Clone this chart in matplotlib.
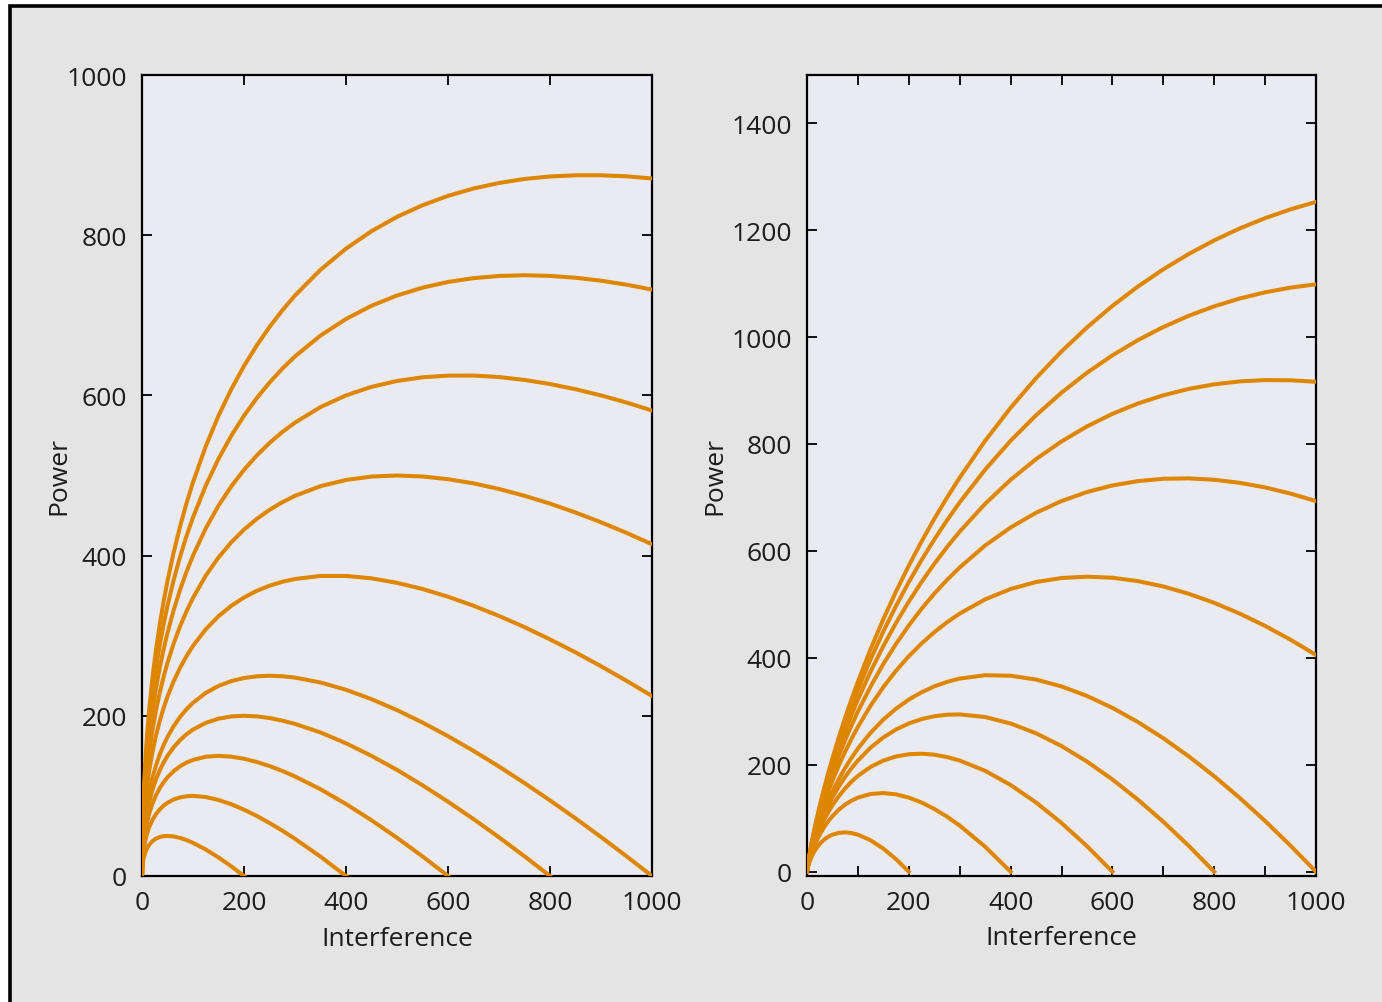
import matplotlib
matplotlib.use('Agg')
import matplotlib.pyplot as plt
from matplotlib.patches import Rectangle
from matplotlib.ticker import MultipleLocator

plt.rcParams['font.family'] = ['Open Sans', 'DejaVu Sans']

# ---------------- data ----------------
interference = [0, 1, 3, 6, 10, 14, 20, 27, 35, 42, 50, 62, 75, 87, 100, 125,
                150, 175, 200, 225, 250, 275, 300, 350, 400, 450, 500, 550,
                600, 650, 700, 750, 800, 850, 900, 950, 1000]

# left panel curves
left_200 = [0, 13.1, 21.5, 28.6, 34.7, 38.9, 43.2, 46.5, 48.7, 49.7, 50, 49.4,
            47.5, 44.9, 41.4, 33.1, 23.2, 12.1, 0]
left_400 = [0, 19, 31.6, 43.0, 53.2, 60.8, 69.4, 76.9, 83.3, 87.6, 91.4, 95.5,
            98.2, 99.5, 100, 98.6, 94.9, 89.6, 82.8, 75, 66.2, 56.7, 46.4, 24.2,
            0]
left_600 = [0, 23.5, 39.4, 54.0, 67.5, 77.7, 89.5, 100.3, 109.9, 116.7, 123.2,
            130.9, 137.1, 141.5, 144.9, 148.9, 150, 149.0, 146.4, 142.4, 137.3,
            131.2, 124.3, 108.3, 89.9, 69.6, 47.7, 24.5, 0]
left_800 = [0, 27.3, 46.0, 63.3, 79.4, 91.8, 106.5, 120.0, 132.3, 141.3, 150,
            160.7, 169.9, 176.8, 182.8, 191.2, 196.4, 199.2, 200, 199.3, 197.2,
            194.0, 189.9, 179.2, 165.7, 150, 132.5, 113.3, 92.8, 71.1, 48.3,
            24.6, 0]
left_1000 = [0, 30.6, 51.8, 71.5, 90, 104.3, 121.4, 137.3, 152.1, 162.9, 173.6,
             187.0, 198.9, 208.0, 216.2, 228.6, 237.3, 243.3, 247.2, 249.3, 250,
             249.4, 247.7, 241.6, 232.5, 220.8, 207.1, 191.6, 174.6, 156.2,
             136.7, 116.0, 94.4, 72.0, 48.7, 24.7, 0]
left_1500 = [0, 37.7, 64.1, 88.9, 112.5, 130.9, 153.2, 174.2, 194.1, 209.0,
             223.9, 243.0, 260.4, 274.2, 287.3, 308.0, 324.3, 337.3, 347.7,
             356.0, 362.4, 367.3, 370.8, 374.6, 374.6, 371.6, 366.0, 358.3,
             348.7, 337.4, 324.7, 310.7, 295.4, 279.2, 261.9, 243.7, 224.7]
left_2000 = [0, 43.7, 74.5, 103.5, 131.4, 153.3, 180, 205.4, 229.6, 247.8,
             266.2, 290.1, 312.3, 330.1, 347.2, 375, 397.7, 416.6, 432.5, 445.8,
             457.1, 466.6, 474.6, 486.7, 494.4, 498.7, 500, 498.8, 495.4, 490.2,
             483.2, 474.7, 464.9, 453.8, 441.6, 428.4, 414.2]
left_2500 = [0, 49, 83.6, 116.5, 148.1, 173.1, 203.6, 232.8, 260.8, 282.0,
             303.6, 331.7, 358.0, 379.4, 400, 434.0, 462.4, 486.4, 507.1, 525,
             540.6, 554.2, 566.0, 585.4, 600, 610.7, 618.0, 622.6, 624.7, 624.8,
             622.9, 619.3, 614.2, 607.7, 600, 591.1, 581.1]
left_3000 = [0, 53.8, 91.9, 128.2, 163.2, 190.9, 225.0, 257.6, 289.0, 313.0,
             337.3, 369.3, 399.3, 423.9, 447.7, 487.4, 520.8, 549.6, 574.6,
             596.6, 616.0, 633.3, 648.7, 674.7, 695.4, 711.9, 724.7, 734.5,
             741.6, 746.4, 749.1, 750, 749.2, 746.9, 743.2, 738.2, 732.1]
left_3500 = [0, 58.2, 99.5, 138.9, 177.1, 207.4, 244.6, 280.4, 315, 341.4,
             368.3, 403.8, 437.3, 464.8, 491.6, 536.4, 574.6, 607.6, 636.7,
             662.4, 685.4, 706.1, 724.7, 756.8, 783.2, 805.0, 822.9, 837.4,
             849.1, 858.3, 865.2, 870.2, 873.3, 874.8, 874.8, 873.5, 870.8]

# right panel curves
right_200 = [0, 5.3, 12.6, 21.0, 30.0, 37.2, 46.1, 54.1, 61.0, 65.5, 69.3, 72.6,
             73.6, 72.4, 69.3, 58.8, 43.2, 23.4, 0]
right_400 = [0, 6.0, 14.7, 25.2, 36.9, 46.9, 59.9, 72.8, 85.3, 94.7, 104.0,
             115.6, 125.6, 132.7, 138.6, 145.4, 147.1, 144.7, 138.6, 129.5,
             117.5, 103.0, 86.3, 46.8, 0]
right_600 = [0, 6.4, 15.9, 27.6, 40.9, 52.6, 68.0, 83.7, 99.5, 111.7, 124.2,
             140.7, 156.0, 168.0, 179.2, 196.1, 207.9, 215.6, 219.7, 220.7,
             218.9, 214.5, 207.9, 188.7, 162.2, 129.5, 91.2, 47.9, 0]
right_800 = [0, 6.7, 16.8, 29.4, 43.8, 56.6, 73.8, 91.5, 109.5, 123.8, 138.6,
             158.6, 177.5, 193.0, 207.9, 232.0, 251.1, 266.0, 277.3, 285.4,
             290.8, 293.6, 294.2, 289.3, 277.2, 258.9, 235.0, 206.1, 172.6,
             134.9, 93.5, 48.4, 0]
right_1000 = [0, 6.9, 17.4, 30.7, 46.1, 59.8, 78.2, 97.5, 117.3, 133.1, 149.8,
              172.4, 194.3, 212.4, 230.3, 259.9, 284.6, 305.0, 321.9, 335.6,
              346.6, 355.0, 361.2, 367.5, 366.5, 359.4, 346.6, 328.8, 306.5,
              280.0, 249.7, 215.8, 178.6, 138.2, 94.9, 48.7, 0]
right_1500 = [0, 7.3, 18.6, 33.1, 50.1, 65.4, 86.4, 108.5, 131.5, 150.2, 170.1,
              197.5, 224.7, 247.7, 270.8, 310.6, 345.4, 376.0, 403.0, 426.8,
              447.9, 466.5, 482.8, 509.4, 528.7, 541.8, 549.3, 551.8, 549.8,
              543.5, 533.5, 519.8, 502.9, 482.8, 459.7, 433.9, 405.4]
right_2000 = [0, 7.6, 19.5, 34.9, 53.0, 69.5, 92.1, 116.2, 141.6, 162.3, 184.4,
              215.4, 246.3, 272.7, 299.6, 346.6, 388.5, 426.3, 460.5, 491.6,
              519.9, 545.6, 569.1, 610.1, 643.8, 671.3, 693.2, 710.1, 722.4,
              730.5, 734.9, 735.6, 733.0, 727.3, 718.7, 707.2, 693.1]
right_2500 = [0, 7.8, 20.2, 36.2, 55.2, 72.6, 96.6, 122.3, 149.4, 171.6, 195.6,
              229.2, 263.0, 292.2, 321.9, 374.5, 422.0, 465.4, 505.1, 541.8,
              575.6, 607.0, 636.1, 688.1, 733.0, 771.7, 804.7, 832.8, 856.3,
              875.6, 891.0, 902.9, 911.5, 917.0, 919.4, 919.1, 916.2]
right_3000 = [0, 8.0, 20.7, 37.3, 57.0, 75.1, 100.2, 127.2, 155.8, 179.3, 204.7,
              240.5, 276.7, 308.0, 340.1, 397.3, 449.4, 497.3, 541.6, 582.8,
              621.2, 657.1, 690.8, 752.0, 806.0, 853.7, 895.9, 933.1, 965.7,
              994.1, 1018.7, 1039.7, 1057.4, 1072.0, 1083.6, 1092.4, 1098.6]
right_3500 = [0, 8.2, 21.2, 38.2, 58.6, 77.3, 103.3, 131.3, 161.2, 185.8, 212.4,
              250.1, 288.2, 321.4, 355.5, 416.5, 472.5, 524.2, 572.4, 617.5,
              659.8, 699.5, 737.0, 805.9, 867.6, 923.1, 973.0, 1017.8, 1058.2,
              1094.3, 1126.6, 1155.3, 1180.7, 1203.0, 1222.3, 1238.8, 1252.7]

left_curves = [left_200, left_400, left_600, left_800, left_1000,
               left_1500, left_2000, left_2500, left_3000, left_3500]
right_curves = [right_200, right_400, right_600, right_800, right_1000,
                right_1500, right_2000, right_2500, right_3000, right_3500]

x_ticks = [0, 200, 400, 600, 800, 1000]
left_y_ticks = [0, 200, 400, 600, 800, 1000]
right_y_ticks = [0, 200, 400, 600, 800, 1000, 1200, 1400]
x_label = 'Interference'
y_label = 'Power'

# ---------------- style ----------------
LINE_COLOR = '#DE8600'
AX_BG = '#EAEAF2'
FIG_BG = '#E4E4E4'
TXT = '#1c1c1c'
FS = 19

W, H = 1382, 1003
fig = plt.figure(figsize=(W / 100, H / 100), dpi=100)
fig.patch.set_facecolor('white')

frame = Rectangle((10 / W, -0.1), 1.2, 1 - 7 / H + 0.1, transform=fig.transFigure,
                  facecolor=FIG_BG, edgecolor='black', linewidth=2.6, zorder=-10)
fig.patches.append(frame)

bottom = (H - 877) / H
height = 801 / H
ax1 = fig.add_axes([142 / W, bottom, 510 / W, height])
ax2 = fig.add_axes([807 / W, bottom, 509 / W, height])


def style(ax, yticks, ylim, minor_x):
    ax.set_facecolor(AX_BG)
    ax.set_xlim(0, 1000)
    ax.set_ylim(*ylim)
    ax.set_xticks(x_ticks)
    ax.set_yticks(yticks)
    if minor_x:
        ax.xaxis.set_minor_locator(MultipleLocator(100))
        ax.tick_params(axis='x', which='minor', direction='in', length=7,
                       width=1.3, top=True, bottom=True, color='black')
    ax.tick_params(axis='both', which='major', direction='in', length=7,
                   width=1.3, top=True, right=True, color='black',
                   labelsize=FS, labelcolor=TXT)
    ax.tick_params(axis='x', which='major', pad=10)
    ax.tick_params(axis='y', which='major', pad=11)
    for s in ax.spines.values():
        s.set_linewidth(1.6)
        s.set_color('black')
    ax.set_xlabel(x_label, fontsize=FS, color=TXT)
    ax.set_ylabel(y_label, fontsize=FS, color=TXT, va='center')


style(ax1, left_y_ticks, (0, 1000), False)
style(ax2, right_y_ticks, (-8, 1490), True)

ax1.xaxis.set_label_coords(0.5, -0.063)
ax2.xaxis.set_label_coords(0.5, -0.061)
ax1.yaxis.set_label_coords(-0.163, 0.5)
ax2.yaxis.set_label_coords(-0.181, 0.5)

for p in left_curves:
    ax1.plot(interference[:len(p)], p, color=LINE_COLOR, lw=2.9, zorder=3)
for p in right_curves:
    ax2.plot(interference[:len(p)], p, color=LINE_COLOR, lw=2.9, zorder=3)

fig.savefig('out.png', dpi=100, facecolor=fig.get_facecolor())
